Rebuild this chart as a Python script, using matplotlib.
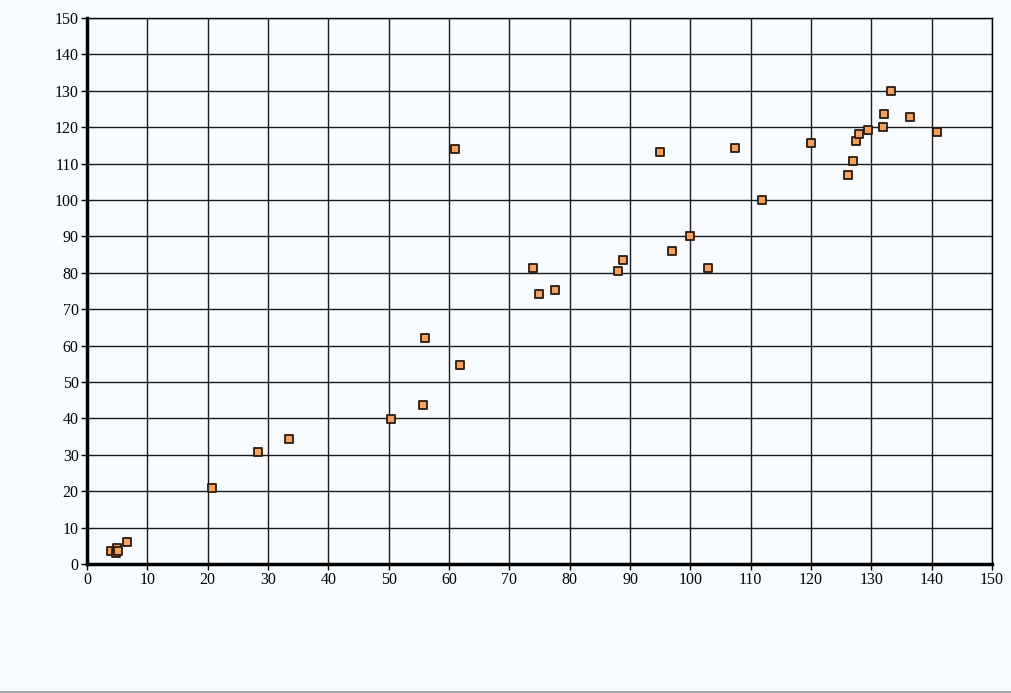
import numpy as np
import matplotlib.pyplot as plt

# scatter values
x_vals = [4.0, 4.8, 5.0, 5.2, 6.6, 20.7, 28.3, 33.5, 50.4, 55.7, 56.0, 61.8, 61.0,
          73.9, 74.9, 77.6, 88.0, 88.8, 95.0, 97.0, 99.9, 102.9, 107.4, 111.9,
          120.0, 126.1, 127.0, 127.5, 128.0, 129.5, 132.1, 131.9, 133.3, 136.4, 140.9]
y_vals = [3.6, 3.0, 4.3, 3.6, 6.0, 20.9, 30.8, 34.3, 39.8, 43.7, 62.1, 54.7, 114.0,
          81.3, 74.2, 75.3, 80.5, 83.5, 113.2, 86.0, 90.1, 81.3, 114.3, 100.0,
          115.7, 106.9, 110.7, 116.2, 118.1, 119.2, 123.6, 120.1, 129.9, 122.8, 118.7]
ticks = list(range(0, 151, 10))

bg = '#f8fcff'
fig = plt.figure(figsize=(10.12, 6.93), dpi=100, facecolor=bg)
ax = fig.add_axes([87 / 1012, 1 - 564 / 693, (992 - 87) / 1012, (564 - 18) / 693])
ax.set_facecolor(bg)

ax.scatter(x_vals, y_vals, marker='s', s=30, facecolor='#f5a25f',
           edgecolor='#2a1a10', linewidth=1.3, zorder=3)

ax.set_xlim(0, 150)
ax.set_ylim(0, 150)
ax.set_xticks(ticks)
ax.set_yticks(ticks)
ax.grid(True, color='#1a1a1a', linewidth=1.0)
ax.set_axisbelow(True)

for side in ['top', 'right']:
    ax.spines[side].set_linewidth(1.0)
for side in ['left', 'bottom']:
    ax.spines[side].set_linewidth(2.5)
ax.tick_params(direction='out', length=4, width=1, pad=2,
               labelsize=11.5)
for lbl in ax.get_xticklabels() + ax.get_yticklabels():
    lbl.set_family('Liberation Serif')

# thin gray rule at the very bottom of the image
fig.add_artist(plt.Line2D([0, 1], [1.5 / 693, 1.5 / 693], color='#a0a4a4', linewidth=2,
                          transform=fig.transFigure))

fig.savefig('out.png', dpi=100, facecolor=bg)
